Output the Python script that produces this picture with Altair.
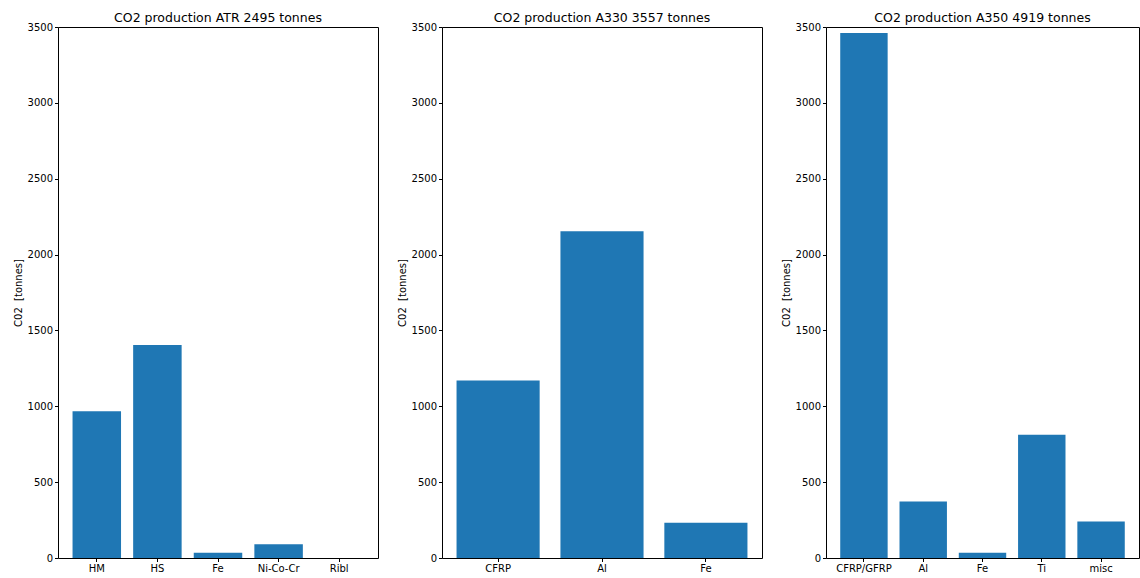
import altair as alt
import pandas as pd

# CO2 produced per material group, in tonnes
atr_materials = ["HM", "HS", "Fe", "Ni-Co-Cr", "Ribl"]
atr_co2 = [967, 1404, 34, 90, 0]

a330_materials = ["CFRP", "Al", "Fe"]
a330_co2 = [1170, 2154, 233]

a350_materials = ["CFRP/GFRP", "Al", "Fe", "Ti", "misc"]
a350_co2 = [3460, 372, 35, 812, 240]

y_ticks = [0, 500, 1000, 1500, 2000, 2500, 3000, 3500]
BAR_COLOR = "#1f77b4"
FONT = "DejaVu Sans"


def panel(name, materials, values, width):
    df = pd.DataFrame({"material": materials, "co2": values})
    n = len(materials)
    total = sum(values)
    outer = 0.05 * (n - 0.2)
    return (
        alt.Chart(df)
        .mark_bar(color=BAR_COLOR)
        .encode(
            x=alt.X(
                "material:N",
                sort=materials,
                scale=alt.Scale(paddingInner=0.2, paddingOuter=outer),
                axis=alt.Axis(title=None, labelAngle=0),
            ),
            y=alt.Y(
                "co2:Q",
                scale=alt.Scale(domain=[0, 3500], nice=False),
                axis=alt.Axis(title="C02\u00a0\u00a0[tonnes]", values=y_ticks, format="d"),
            ),
        )
        .properties(
            width=width,
            height=531,
            title=f"CO2 production {name} {total} tonnes",
        )
    )


chart = (
    alt.hconcat(
        panel("ATR", atr_materials, atr_co2, 320),
        panel("A330", a330_materials, a330_co2, 320),
        panel("A350", a350_materials, a350_co2, 313),
        spacing=17,
    )
    .properties(padding={"left": 12, "top": 11, "right": 0, "bottom": 0})
    .configure(font=FONT)
    .configure_view(stroke="black", strokeWidth=1)
    .configure_axis(
        grid=False,
        domain=False,
        tickColor="black",
        tickSize=3.5,
        labelColor="black",
        labelFontSize=10,
        labelFont=FONT,
        titleFont=FONT,
        titleFontSize=10,
        titleFontWeight="normal",
        titleColor="black",
        labelPadding=2,
    )
    .configure_title(fontSize=12.5, fontWeight="normal", color="black", font=FONT, offset=-2)
)

chart.save("out.html", embed_options={"renderer": "svg", "actions": False})
